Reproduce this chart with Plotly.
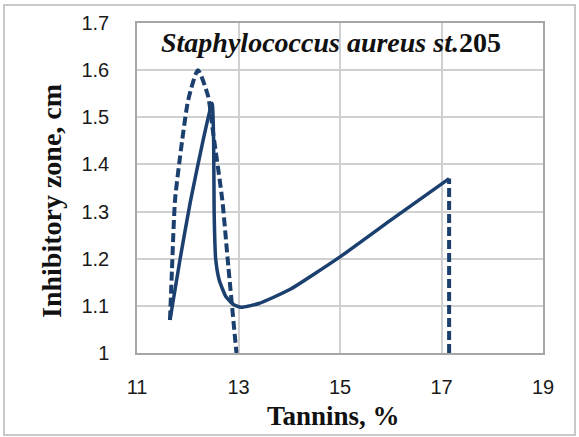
import plotly.graph_objects as go

# Solid curve
solid_x = [11.65, 11.85, 12.05, 12.3, 12.48, 12.51, 12.52, 12.55, 12.62, 12.75, 12.9, 13.05, 13.4, 14.0, 15.0, 16.0, 17.15]
solid_y = [1.07, 1.20, 1.32, 1.45, 1.53, 1.45, 1.30, 1.20, 1.155, 1.12, 1.103, 1.097, 1.105, 1.134, 1.204, 1.282, 1.37]

# Dashed curve; None separates the two pieces
dash_x = [11.65, 11.69, 11.75, 11.91, 12.01, 12.2, 12.4, 12.5, 12.68, 12.80, 12.96, None, 17.15, 17.15]
dash_y = [1.07, 1.18, 1.325, 1.467, 1.537, 1.60, 1.545, 1.467, 1.325, 1.183, 1.0, None, 1.0, 1.37]

x_ticks = [11, 13, 15, 17, 19]
y_ticks = [1, 1.1, 1.2, 1.3, 1.4, 1.5, 1.6, 1.7]
y_labels = ["1", "1.1", "1.2", "1.3", "1.4", "1.5", "1.6", "1.7"]

title_text = "<b><i>Staphylococcus aureus st.</i>205</b>"
x_title = "<b>Tannins, %</b>"
y_title = "<b>Inhibitory zone, cm</b>"

line_color = "#1b3f6e"
serif = "Liberation Serif, Times New Roman, serif"

fig = go.Figure()
fig.add_trace(go.Scatter(x=dash_x, y=dash_y, mode="lines",
                         line=dict(color=line_color, width=4, dash="9px,4px", shape="spline", smoothing=0.6),
                         connectgaps=False, showlegend=False, hoverinfo="skip"))
fig.add_trace(go.Scatter(x=solid_x, y=solid_y, mode="lines",
                         line=dict(color=line_color, width=3.5, shape="spline", smoothing=0.5),
                         showlegend=False, hoverinfo="skip"))

L, R, T, B = 137, 36, 23, 84
W, H = 579, 437
pw, ph = W - L - R, H - T - B


def px_x(px):
    return (px - L) / pw


def px_y(py):
    return (H - B - py) / ph


fig.update_layout(
    width=W, height=H,
    margin=dict(l=L, r=R, t=T, b=B),
    paper_bgcolor="white", plot_bgcolor="white",
    font=dict(family="Liberation Sans, Arial, sans-serif", size=20, color="#1a1a1a"),
    xaxis=dict(range=[11, 19], tickvals=x_ticks, ticktext=[str(v) for v in x_ticks],
               showgrid=True, gridcolor="#d0d0d0", gridwidth=1.5,
               showline=True, linecolor="#a6a6a6", linewidth=1.5, mirror=True,
               ticks="", zeroline=False, ticklabelstandoff=15),
    yaxis=dict(range=[1, 1.7], tickvals=y_ticks, ticktext=y_labels,
               showgrid=True, gridcolor="#d0d0d0", gridwidth=1.5,
               showline=True, linecolor="#a6a6a6", linewidth=1.5, mirror=True,
               ticks="", zeroline=False, ticklabelstandoff=22),
    annotations=[
        dict(text=title_text, xref="paper", yref="paper",
             x=px_x(159), y=px_y(42), xanchor="left", yanchor="middle", showarrow=False,
             font=dict(family=serif, size=28, color="#111")),
        dict(text=x_title, xref="paper", yref="paper",
             x=px_x(333), y=px_y(416), xanchor="center", yanchor="middle", showarrow=False,
             font=dict(family=serif, size=27, color="#111")),
        dict(text=y_title, xref="paper", yref="paper", textangle=-90,
             x=px_x(52), y=px_y(201), xanchor="center", yanchor="middle", showarrow=False,
             font=dict(family=serif, size=28, color="#111")),
    ],
    shapes=[dict(type="rect", xref="paper", yref="paper",
                 x0=px_x(4), x1=px_x(575), y0=px_y(435), y1=px_y(5),
                 line=dict(color="#c8c8c8", width=2), fillcolor="rgba(0,0,0,0)", layer="below")],
)

fig.write_html("out.html")
